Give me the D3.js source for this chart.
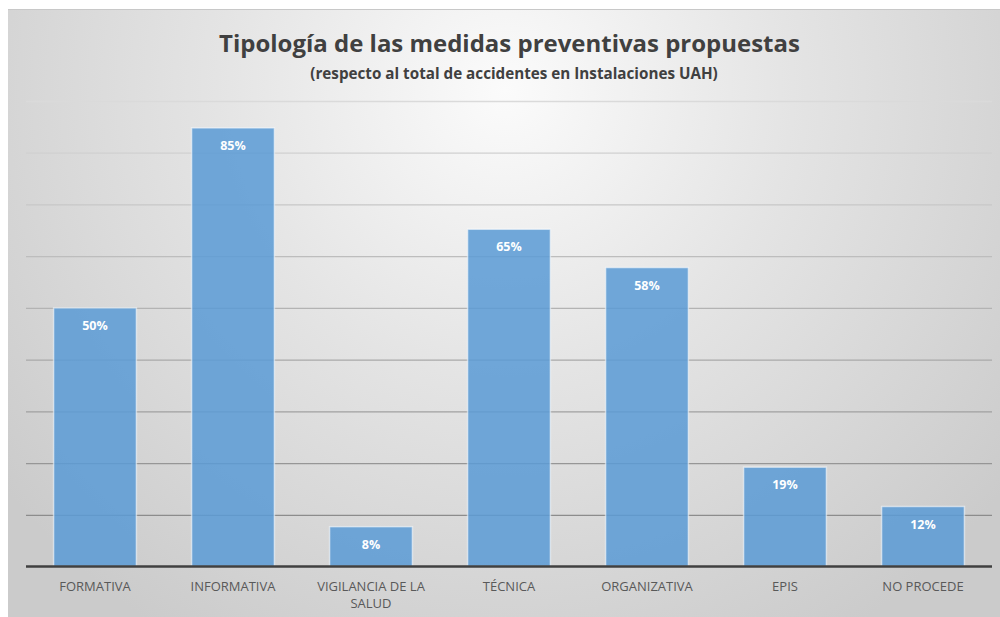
<!DOCTYPE html>
<html><head><meta charset="utf-8">
<script src="https://cdn.jsdelivr.net/npm/d3@7"></script>
<style>html,body{margin:0;padding:0;background:#fff;}svg{display:block;}</style>
</head><body>
<script>
const categories = [["FORMATIVA"],["INFORMATIVA"],["VIGILANCIA DE LA","SALUD"],["TÉCNICA"],["ORGANIZATIVA"],["EPIS"],["NO PROCEDE"]];
const values = [0.50, 0.848, 0.077, 0.652, 0.578, 0.192, 0.116];
const valueLabels = ["50%","85%","8%","65%","58%","19%","12%"];
const yTicks = [0,0.1,0.2,0.3,0.4,0.5,0.6,0.7,0.8,0.9];
const titleText = "Tipología de las medidas preventivas propuestas";
const subtitleText = "(respecto al total de accidentes en Instalaciones UAH)";

const W = 1000, H = 617;
const FONT = "'Open Sans', 'Noto Sans', sans-serif";
const svg = d3.select("body").append("svg").attr("width", W).attr("height", H);
const defs = svg.append("defs");
const rg = defs.append("radialGradient").attr("id","bg").attr("gradientUnits","userSpaceOnUse")
  .attr("cx",505).attr("cy",90).attr("r",640).attr("fx",505).attr("fy",90);
rg.append("stop").attr("offset","0%").attr("stop-color","#fbfbfb");
rg.append("stop").attr("offset","45%").attr("stop-color","#e4e4e4");
rg.append("stop").attr("offset","100%").attr("stop-color","#cbcbcb");

svg.append("rect").attr("x",8).attr("y",9).attr("width",W-8).attr("height",H-9).attr("fill","url(#bg)");
svg.append("line").attr("x1",8).attr("x2",W).attr("y1",9.5).attr("y2",9.5).attr("stroke","#c8c8c8").attr("stroke-width",1);

const x = d3.scaleBand().domain(d3.range(categories.length)).range([26, 992]).paddingInner(0.4).paddingOuter(0.2);
const y = d3.scaleLinear().domain([0, 0.9]).range([566.5, 101]);
const gridColor = d3.scaleLinear().domain([0.9, 0.1]).range(["#dadada","#8c8c8c"]);

// gridlines
const yAxis = d3.axisLeft(y).tickValues(yTicks.slice(1)).tickSize(-(992-26)).tickFormat("");
const gA = svg.append("g").attr("transform","translate(26,0)").call(yAxis);
gA.select(".domain").remove();
gA.selectAll(".tick line").attr("stroke",d=>gridColor(d)).attr("stroke-width",1.3);

// bars
svg.append("g").selectAll("rect").data(values).join("rect")
  .attr("x",(d,i)=>x(i)).attr("width",x.bandwidth())
  .attr("y",d=>y(d)).attr("height",d=>y(0)-y(d))
  .attr("fill","#5b9bd5").attr("fill-opacity",0.86)
  .attr("stroke","#ffffff").attr("stroke-opacity",0.55).attr("stroke-width",1.5);

// value labels
svg.append("g").selectAll("text").data(values).join("text")
  .attr("x",(d,i)=>x(i)+x.bandwidth()/2).attr("y",d=>y(d)+22)
  .attr("text-anchor","middle").attr("font-family",FONT).attr("font-weight","bold")
  .attr("font-size",12.5).attr("fill","#ffffff").text((d,i)=>valueLabels[i]);

// x axis
const xAxis = d3.axisBottom(x).tickSize(0).tickFormat("");
const gx = svg.append("g").attr("transform",`translate(0,${y(0)})`).call(xAxis);
gx.select(".domain").attr("stroke","#404040").attr("stroke-width",2.5).attr("d","M26,0H992");
gx.selectAll(".tick").each(function(d){
  const t = d3.select(this).append("text").attr("y",24).attr("text-anchor","middle")
    .attr("font-family",FONT).attr("font-size",13).attr("fill","#595959");
  categories[d].forEach((line,k)=>t.append("tspan").attr("x",0).attr("dy",k===0?0:17).text(line));
});

// title
function fitText(sel, target){
  const w = sel.node().getComputedTextLength();
  const fs = parseFloat(sel.attr("font-size"));
  sel.attr("font-size", fs*target/w);
}
const title = svg.append("text").attr("x",509.5).attr("y",52).attr("text-anchor","middle")
  .attr("font-family",FONT).attr("font-weight","bold").attr("font-size",26).attr("fill","#404040").text(titleText);
fitText(title, 581);
const sub = svg.append("text").attr("x",514).attr("y",79).attr("text-anchor","middle")
  .attr("font-family",FONT).attr("font-weight","bold").attr("font-size",15).attr("fill","#404040").text(subtitleText);
fitText(sub, 408);
</script>
</body></html>
